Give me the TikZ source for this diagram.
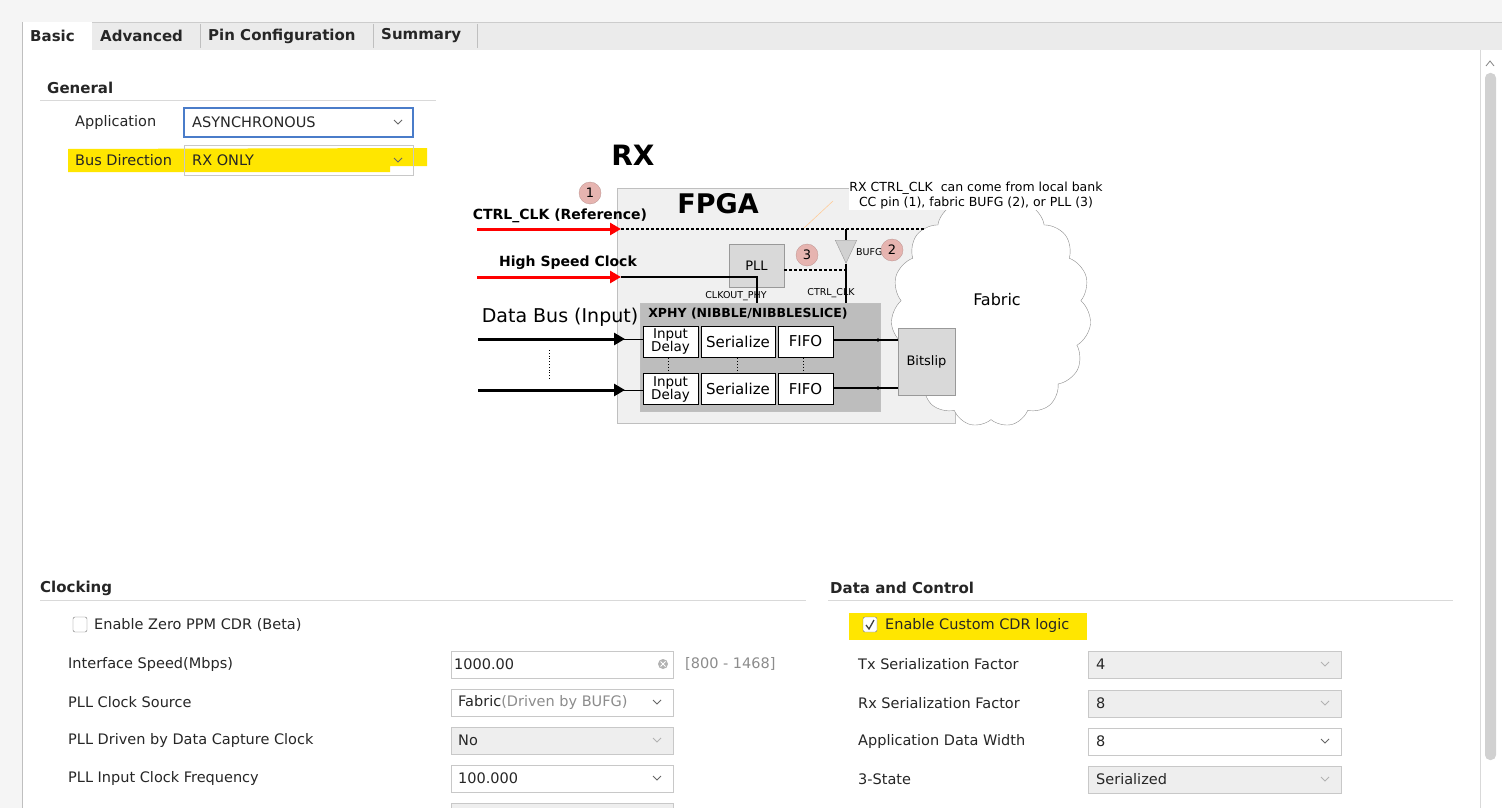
\documentclass[tikz,border=0pt]{standalone}
\usepackage{fontspec}
\setmainfont{DejaVu Sans}
\usetikzlibrary{shapes.symbols,shapes.geometric,arrows.meta}
\definecolor{hl}{HTML}{FFE600}
\definecolor{fieldgray}{HTML}{EEEEEE}
\definecolor{bordergray}{HTML}{C8C8C8}
\definecolor{pinkc}{HTML}{E6B4B0}
\definecolor{fpgafill}{HTML}{F0F0F0}
\definecolor{xphyfill}{HTML}{BDBDBD}
\definecolor{boxgray}{HTML}{D9D9D9}
\definecolor{focusblue}{HTML}{4A7CC9}
\tikzset{
 ui/.style={font=\fontsize{14.5}{16}\selectfont,text=black!85,inner sep=0pt},
 uihead/.style={font=\fontsize{15}{17}\selectfont\bfseries,text=black!85,inner sep=0pt},
 field/.style={draw=bordergray,fill=white},
 gfield/.style={draw=bordergray,fill=fieldgray},
 chev/.style={draw=black!60,line width=0.9pt},
 gchev/.style={draw=black!30,line width=0.8pt},
 badge/.style={circle,fill=pinkc,draw=pinkc!80!black,line width=0.3pt,minimum size=22pt,inner sep=0pt,font=\fontsize{13}{14}\selectfont},
 wbox/.style={draw=black,line width=1pt,fill=white,inner sep=0pt,font=\fontsize{15}{16}\selectfont,align=center},
 gbox/.style={draw=black!40,fill=boxgray,inner sep=0pt,font=\fontsize{13}{14}\selectfont},
 tiny/.style={font=\fontsize{9.5}{10}\selectfont,inner sep=0pt},
 redarr/.style={draw=red,line width=3pt,-{Triangle[length=11pt,width=12pt]}},
 blkarr/.style={draw=black,line width=3pt,-{Triangle[length=11pt,width=12pt]}},
}
\newcommand{\mychev}[3]{\draw[#3] (#1-4,#2-2) -- (#1,#2+2) -- (#1+4,#2-2);}
\begin{document}
\begin{tikzpicture}[x=1pt,y=-1pt]
\useasboundingbox (0,0) rectangle (1502,808);
\fill[black!4] (0,0) rectangle (1502,808);
% tab bar
\fill[black!8] (22,22) rectangle (1502,50);
\draw[black!20] (22,22) -- (1502,22);
\fill[white] (22,50) rectangle (1480,808);
\fill[white] (22,22) rectangle (92,51);
\draw[black!25] (22,22) -- (22,808);
\foreach \x in {200,373,477} \draw[black!25] (\x,24) -- (\x,48);
\node[uihead,anchor=west] (t1) at (30,36) {Basic};
\node[uihead,anchor=west] (t2) at (100,36) {Advanced};
\node[uihead,anchor=west] (t3) at (208,36) {Pin Configuration};
\node[uihead,anchor=west] (t4) at (381,36) {Summary};
% scrollbar
\fill[white] (1480,50) rectangle (1502,808);
\draw[black!15] (1480,50) -- (1480,808);
\fill[black!18,rounded corners=5pt] (1485,73) rectangle (1496,760);
\draw[black!50,line width=0.8pt] (1486,66) -- (1490,61) -- (1494,66);
% General
\node[uihead,anchor=west] (gen) at (47,88) {General};
\draw[black!15] (40,100) -- (436,100);
\node[ui,anchor=west] (app) at (75,122) {Application};
\draw[draw=focusblue,line width=1.2pt,fill=white] (184,108) rectangle (413,137);
\node[ui,anchor=west] (appv) at (192,122) {ASYNCHRONOUS};
\mychev{398}{122}{chev}
\fill[hl] (68,149) -- (427,148) -- (427,166) -- (390,166) -- (390,172) -- (68,172) -- cycle;
\draw[bordergray] (184,145) rectangle (413,175);
\node[ui,anchor=west] (bus) at (75,160) {Bus Direction};
\node[ui,anchor=west] (busv) at (192,160) {RX ONLY};
\mychev{398}{160}{chev}
% Diagram
\node[font=\fontsize{28}{30}\selectfont\bfseries,inner sep=0pt] (rx) at (633,155) {RX};
\fill[fpgafill,draw=black!25] (617,188) rectangle (955,423);
\node[font=\fontsize{27}{29}\selectfont\bfseries,inner sep=0pt] (fpga) at (718,204) {FPGA};
\node[cloud,cloud puffs=15,cloud puff arc=110,aspect=0.85,draw=black!45,fill=white,minimum width=200pt,minimum height=230pt] (fabric) at (991,312) {};
\node[font=\fontsize{16}{18}\selectfont,inner sep=0pt] (fabt) at (997,300) {Fabric};
\node[font=\fontsize{12.5}{15}\selectfont,inner sep=0pt,align=center,fill=white] (note) at (976,196) {RX CTRL\_CLK\ \ can come from local bank\\CC pin (1), fabric BUFG (2), or PLL (3)};
\draw[orange!40,line width=0.6pt] (804,228) -- (833,201);
\node[badge] (b1) at (590,193) {1};
\node[font=\fontsize{14}{16}\selectfont\bfseries,inner sep=0pt] (ctl) at (560,216) {CTRL\_CLK (Reference)};
\coordinate (c1s) at (477,229);
\coordinate (c1e) at (621,229);
\coordinate (c1d) at (925,229);
\draw[redarr] (c1s) -- (c1e);
\draw[line width=1.5pt,dash pattern=on 3pt off 2pt] (c1e) -- (c1d);
\node[isosceles triangle,shape border rotate=-90,isosceles triangle apex angle=50,draw=black!40,fill=black!18,minimum height=23pt,inner sep=0pt,anchor=north] (bufg) at (846,240) {};
\draw[line width=1.5pt] (846,229) -- (bufg.north);
\node[tiny,anchor=west] (bufgt) at (856,252) {BUFG};
\node[badge] (b2) at (892,250) {2};
\node[gbox,minimum width=55pt,minimum height=43pt] (pll) at (756.5,265.5) {PLL};
\node[badge] (b3) at (807,255) {3};
\draw[line width=1.5pt,dash pattern=on 3pt off 2pt] (pll.east |- 0,270) -- (846,270);
\node[font=\fontsize{14}{16}\selectfont\bfseries,inner sep=0pt] (hsc) at (568,263) {High Speed Clock};
\coordinate (h1s) at (477,277);
\coordinate (h1e) at (621,277);
\draw[redarr] (h1s) -- (h1e);
\node[tiny] (clko) at (736,296) {CLKOUT\_PHY};
\node[tiny] (ctlc) at (831,293) {CTRL\_CLK};
\node[draw=black!25,fill=xphyfill,minimum width=240pt,minimum height=108pt,inner sep=0pt] (xphy) at (760,357) {};
\node[font=\fontsize{12.5}{14}\selectfont\bfseries,inner sep=0pt] (xphyt) at (748,314) {XPHY (NIBBLE/NIBBLESLICE)};
\draw[line width=1.5pt] (h1e) -- (757,277) -- (757,303);
\draw[line width=1.5pt] (bufg.south) -- (846,303);
\node[font=\fontsize{19}{21}\selectfont,inner sep=0pt] (dbus) at (560,317) {Data Bus (Input)};
\foreach \r/\y in {a/341.5,b/389} {
 \node[wbox,minimum width=55pt,minimum height=31pt,font=\fontsize{13.5}{14}\selectfont] (id\r) at (670.5,\y) {Input\\[-1pt]Delay};
 \node[wbox,minimum width=74pt,minimum height=31pt] (se\r) at (738,\y) {Serialize};
 \node[wbox,minimum width=55pt,minimum height=31pt] (fi\r) at (805.5,\y) {FIFO};
}
\node[gbox,minimum width=57pt,minimum height=67pt] (bits) at (926.5,361.5) {Bitslip};
\draw[blkarr] (478,339) -- (625,339);
\draw[line width=1pt] (622,339) -- (ida.west |- 0,339);
\draw[blkarr] (478,390) -- (625,390);
\draw[line width=1pt] (622,390) -- (idb.west |- 0,390);
\draw[line width=1.5pt] (fia.east |- 0,340) -- (bits.west |- 0,340);
\draw[line width=1.5pt] (fib.east |- 0,388) -- (bits.west |- 0,388);
\fill (878,340) circle (1.8pt);
\fill (878,388) circle (1.8pt);
\draw[dotted,line width=0.8pt] (549,350) -- (549,380);
\foreach \x in {668,737,803} \draw[dotted,line width=0.9pt] (\x,358) -- (\x,373);
% Clocking
\node[uihead,anchor=west] (clk) at (40,588) {Clocking};
\draw[black!15] (40,600) -- (806,600);
\draw[black!55,rounded corners=2pt] (73,617) rectangle (87,632);
\node[ui,anchor=west] (zp) at (94,625) {Enable Zero PPM CDR (Beta)};
\node[ui,anchor=west] (l1) at (68,664) {Interface Speed(Mbps)};
\node[ui,anchor=west] (l2) at (68,702) {PLL Clock Source};
\node[ui,anchor=west] (l3) at (68,740) {PLL Driven by Data Capture Clock};
\node[ui,anchor=west] (l4) at (68,778) {PLL Input Clock Frequency};
\draw[field] (451,651) rectangle (673,678);
\draw[field] (451,689) rectangle (673,716);
\draw[gfield] (451,727) rectangle (673,754);
\draw[field] (451,765) rectangle (673,792);
\draw[gfield] (451,803) rectangle (673,812);
\node[ui,anchor=west] (v1) at (454,664) {1000.00};
\fill[black!30] (663,664) circle (5pt);
\draw[white,line width=1pt] (660.5,661.5) -- (665.5,666.5) (660.5,666.5) -- (665.5,661.5);
\node[ui,anchor=west,text=black!45] (rng) at (685,664) {[800 - 1468]};
\node[ui,anchor=west] (v2) at (458,702) {Fabric\textcolor{black!45}{(Driven by BUFG)}};
\mychev{657}{702}{chev}
\node[ui,anchor=west] (v3) at (458,740) {No};
\mychev{657}{740}{gchev}
\node[ui,anchor=west] (v4) at (458,778) {100.000};
\mychev{657}{778}{chev}
% Data and Control
\node[uihead,anchor=west] (dc) at (830,588) {Data and Control};
\draw[black!15] (828,600) -- (1453,600);
\fill[hl] (849,613) rectangle (1087,640);
\draw[black!55,fill=white,rounded corners=2pt] (863,617) rectangle (877,632);
\draw[black!75,line width=1.3pt] (866,625) -- (869,629) -- (874,620);
\node[ui,anchor=west] (cdr) at (885,625) {Enable Custom CDR logic};
\node[ui,anchor=west] (r1) at (858,664) {Tx Serialization Factor};
\node[ui,anchor=west] (r2) at (858,703) {Rx Serialization Factor};
\node[ui,anchor=west] (r3) at (858,741) {Application Data Width};
\node[ui,anchor=west] (r4) at (858,779) {3-State};
\draw[gfield] (1088,651) rectangle (1341,678);
\draw[gfield] (1088,690) rectangle (1341,717);
\draw[field] (1088,728) rectangle (1341,755);
\draw[gfield] (1088,766) rectangle (1341,793);
\node[ui,anchor=west] (w1) at (1096,664) {4};
\node[ui,anchor=west] (w2) at (1096,703) {8};
\node[ui,anchor=west] (w3) at (1096,741) {8};
\node[ui,anchor=west] (w4) at (1096,779) {Serialized};
\mychev{1325}{664}{gchev}
\mychev{1325}{703}{gchev}
\mychev{1325}{741}{chev}
\mychev{1325}{779}{gchev}
\end{tikzpicture}
\end{document}
